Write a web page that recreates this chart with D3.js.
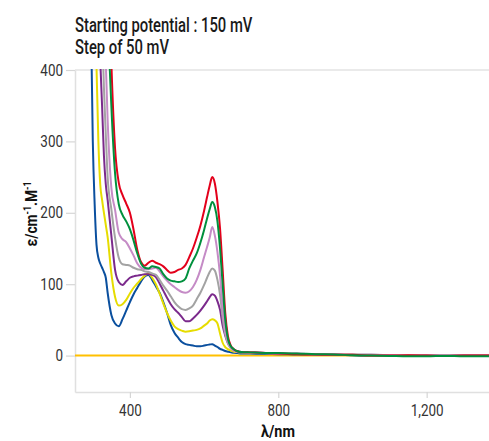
<!DOCTYPE html>
<html>
<head>
<meta charset="utf-8">
<script src="https://cdn.jsdelivr.net/npm/d3@7"></script>
<style>
  body { margin: 0; background: #fff; }
  svg { display: block; }
  text { font-family: Roboto, "Noto Sans", sans-serif; }
</style>
</head>
<body>
<svg id="chart" width="489" height="441"></svg>
<script>
// Wavelength grid (nm) shared by every spectrum
const wavelengths = [250, 290, 295, 300, 305, 310, 315, 320, 325, 330, 335, 340, 350, 360, 370, 380, 390, 400, 410, 420, 430, 440, 450, 460, 470, 480, 490, 500, 510, 520, 530, 540, 550, 560, 570, 580, 590, 600, 608, 615, 622, 629, 636, 643, 650, 657, 664, 672, 680, 690, 700, 725, 750, 800, 850, 900, 950, 1000, 1050, 1100, 1150, 1200, 1250, 1300, 1370];

// Molar absorptivity (cm-1.M-1) for each potential step
const step0 = [0, 0, 0, 0, 0, 0, 0, 0, 0, 0, 0, 0, 0, 0, 0, 0, 0, 0, 0, 0, 0, 0, 0, 0, 0, 0, 0, 0, 0, 0, 0, 0, 0, 0, 0, 0, 0, 0, 0, 0, 0, 0, 0, 0, 0, 0, 0, 0, 0, 0, 0, 0, 0, 0, 0, 0, 0, 0, 0, 0, 0, 0, 0, 0, 0];
const step1 = [2500, 700, 470, 300, 212, 155, 137, 129, 123, 117, 109, 88, 57, 45, 41, 51, 63, 75, 86, 95, 104, 111, 113, 106, 97, 88, 75, 60, 43, 32, 25, 19, 16, 15, 14, 13, 13, 14, 15, 15.5, 16, 14, 12, 9.5, 8, 6.5, 5.5, 4.5, 4, 3.5, 3, 3, 2.5, 2, 1.5, 1, 1.5, 0.5, 0, 0.5, -0.5, 0.5, 0, 0, 0];
const step2 = [3000, 900, 760, 640, 520, 405, 300, 240, 218, 200, 183, 166, 115, 82, 70, 72, 78, 87, 95, 101, 107, 112, 115, 109, 100, 87, 73, 60, 49, 41, 37, 35, 33.5, 34, 35, 36, 38, 42, 45, 49, 51, 49.5, 45, 31, 18, 12, 9, 7, 5.5, 5, 4.5, 4, 3.5, 3, 2, 1.5, 1, 1, 0.5, 0.5, 0, 0, 0.5, 0, 0];
const step3 = [3500, 1250, 1050, 880, 740, 610, 500, 415, 350, 280, 240, 218, 168, 120, 103, 99, 104, 109, 111, 112, 113, 114, 114, 113, 110, 101, 91, 81, 72, 65, 60, 54, 48, 48, 52, 57, 63, 70, 76, 82, 86, 84, 76, 64, 42, 28, 18, 12, 8, 6, 5, 4.5, 4, 3, 2.5, 2, 1.5, 1, 1, 0.5, 0, 0, 0, 0.5, 0];
const step4 = [4000, 1500, 1300, 1120, 960, 820, 680, 560, 460, 375, 310, 250, 205, 165, 137, 128, 127, 126, 123, 121, 120, 118, 117, 115, 113, 106, 98, 91, 83, 75, 69, 65, 64, 66, 70, 79, 88, 99, 109, 117, 122, 119, 106, 85, 53, 30, 17, 10, 7, 5, 4.5, 4, 3.5, 3, 2.5, 2, 1.5, 1, 1, 0.5, 0.5, 0, 0, 0, 0];
const step5 = [4500, 1800, 1600, 1400, 1220, 1050, 900, 760, 640, 520, 410, 330, 235, 204, 172, 163, 159, 150, 140, 129, 123, 121, 121, 122, 123, 118, 111, 105, 100, 96, 92, 89, 88, 90, 96, 106, 120, 138, 152, 165, 180, 168, 145, 112, 66, 35, 19, 11, 7, 5.5, 5, 4.5, 4, 3, 2.5, 2, 1.5, 1, 0.5, 0.5, 0, 0, 0, 0, 0];
const step6 = [5500, 2400, 2200, 2000, 1800, 1600, 1400, 1200, 1020, 860, 720, 600, 410, 290, 242, 225, 213, 200, 176, 148, 131, 126, 130, 133, 130, 128, 125, 120, 116, 117, 120, 122, 127, 138, 150, 165, 182, 203, 222, 238, 250, 241, 215, 178, 120, 60, 28, 14, 9, 6, 5, 4.5, 4, 3, 2, 1.5, 1, 1, 0, 0, 0.5, 0, -0.5, 0, 0];
const step7 = [5000, 2200, 2000, 1800, 1600, 1400, 1200, 1020, 860, 720, 600, 490, 350, 255, 212, 197, 188, 177, 161, 143, 129, 123, 122, 125, 124, 122, 114, 108, 105, 104, 103, 104, 108, 122, 133, 143, 158, 176, 192, 205, 215, 208, 188, 150, 100, 50, 24, 13, 9, 6, 5, 4.5, 4, 3.5, 3, 2, 1.5, 0.5, 0, -0.5, -1, -1, -0.5, -1, -1];

const spectra = [step0, step1, step2, step3, step4, step5, step6, step7];
const colors = ["#ffc000", "#0a4f9e", "#e6dc00", "#7b2a8c", "#a3a3a3", "#c58bc6", "#e3001b", "#00903d"];

const titleLines = ["Starting potential : 150 mV", "Step of 50 mV"];
const yTicks = [0, 100, 200, 300, 400];
const xTicks = [400, 800, 1200];

const svg = d3.select("#chart");
const plotLeft = 75, plotRight = 489, plotTop = 70, plotBottom = 392;

const x = d3.scaleLinear().domain([252, 1368]).range([plotLeft, plotRight]);
const y = d3.scaleLinear().domain([-51, 400]).range([plotBottom, plotTop]);

// Squeeze text horizontally to mimic a condensed face
function condense(sel, factor) {
  sel.each(function () {
    const w = this.getComputedTextLength();
    d3.select(this).attr("textLength", w * factor).attr("lengthAdjust", "spacingAndGlyphs");
  });
}

// Title
svg.append("g")
  .selectAll("text").data(titleLines).join("text")
  .attr("x", plotLeft)
  .attr("y", (d, i) => 32 + i * 22)
  .attr("font-size", 20)
  .attr("font-weight", 500)
  .attr("fill", "#1a1a1a")
  .text(d => d)
  .call(condense, 0.74);

// Top frame line
svg.append("line")
  .attr("x1", plotLeft).attr("x2", plotRight)
  .attr("y1", plotTop).attr("y2", plotTop)
  .attr("stroke", "#e3e3e3").attr("stroke-width", 1.5);

// Axes
const yAxis = svg.append("g")
  .attr("transform", `translate(${plotLeft},0)`)
  .call(d3.axisLeft(y).tickValues(yTicks).tickSize(9).tickSizeOuter(0).tickPadding(3));

const xAxis = svg.append("g")
  .attr("transform", `translate(0,${plotBottom})`)
  .call(d3.axisBottom(x).tickValues(xTicks).tickFormat(d3.format(",")).tickSize(6).tickSizeOuter(0).tickPadding(7));

[yAxis, xAxis].forEach(g => {
  g.attr("font-family", null).attr("font-size", null);
  g.select(".domain").attr("stroke", "#e0e0e0").attr("stroke-width", 1.5);
  g.selectAll(".tick line").attr("stroke", "#d6d6d6").attr("stroke-width", 1.2);
  g.selectAll(".tick text").attr("font-size", 16).attr("fill", "#333").call(condense, 0.84);
});

// Axis titles
svg.append("text")
  .attr("x", 278).attr("y", 437)
  .attr("text-anchor", "middle")
  .attr("font-size", 17).attr("font-weight", "bold").attr("fill", "#111")
  .text("λ/nm")
  .call(condense, 0.85);

const yTitle = svg.append("text")
  .attr("text-anchor", "middle")
  .attr("font-size", 16).attr("font-weight", "bold").attr("fill", "#111");
yTitle.append("tspan").text("ε/cm");
yTitle.append("tspan").attr("font-size", 10).attr("dy", -6).text("-1");
yTitle.append("tspan").attr("dy", 6).text(".M");
yTitle.append("tspan").attr("font-size", 10).attr("dy", -6).text("-1");
const yTitleWidth = yTitle.node().getComputedTextLength();
yTitle.attr("transform", `translate(37,214) rotate(-90) scale(${65 / yTitleWidth},1)`);

// Plot area clip
svg.append("clipPath").attr("id", "plot-clip")
  .append("rect").attr("x", plotLeft).attr("y", plotTop - 1).attr("width", plotRight - plotLeft).attr("height", plotBottom - plotTop + 1);

const line = d3.line()
  .x((d, i) => x(wavelengths[i]))
  .y(d => y(d))
  .curve(d3.curveMonotoneX);

svg.append("g").attr("clip-path", "url(#plot-clip)")
  .selectAll("path").data(spectra).join("path")
  .attr("d", d => line(d))
  .attr("fill", "none")
  .attr("stroke", (d, i) => colors[i])
  .attr("stroke-width", 2)
  .attr("stroke-linejoin", "round");
</script>
</body>
</html>
